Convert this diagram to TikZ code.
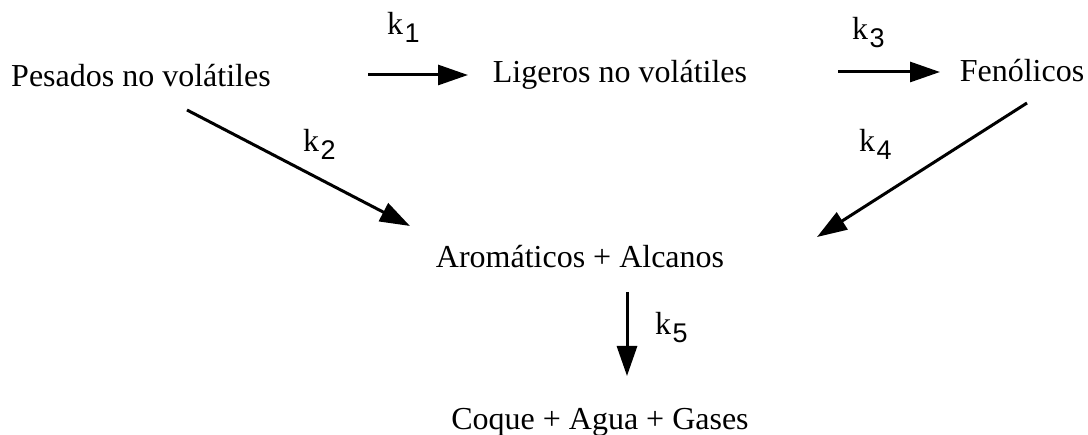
\documentclass[tikz,border=0pt]{standalone}
\usepackage{fontspec}
\setmainfont{Liberation Serif}
\setsansfont{Liberation Sans}
\usetikzlibrary{arrows.meta}
\newcommand{\rate}[1]{k\kern1.5pt\raisebox{-8pt}{\sffamily\fontsize{27}{27}\selectfont #1}}

\begin{document}
\begin{tikzpicture}
	[x=1pt,y=-1pt,
	species/.style={anchor=base,inner sep=0pt,font=\fontsize{32}{38}\selectfont},
	ratelbl/.style={anchor=base west,inner sep=0pt,font=\fontsize{32}{38}\selectfont},
	reac/.style={line width=3pt,-{Triangle[length=30pt,width=20pt]}}]
	\useasboundingbox (0,0) rectangle (1088,435);
	% species
	\node[species] (pesados) at (141,87) {Pesados no volátiles};
	\node[species] (ligeros) at (620,83) {Ligeros no volátiles};
	\node[species] (fenolicos) at (1022,82) {Fenólicos};
	\node[species] (aromaticos) at (580,268) {Aromáticos + Alcanos};
	\node[species] (coque) at (600,430) {Coque + Agua + Gases};
	% arrow ends
	\coordinate (a1) at (368,75);   \coordinate (b1) at (468,75);
	\coordinate (a2) at (187,110);  \coordinate (b2) at (410,226);
	\coordinate (a3) at (838,72);   \coordinate (b3) at (940,72);
	\coordinate (a4) at (1027,103); \coordinate (b4) at (817,237);
	\coordinate (a5) at (627,292);  \coordinate (b5) at (627,376);
	\foreach \i in {1,...,5}
		\draw[reac] (a\i) -- (b\i);
	% rate constants
	\node[ratelbl] (k1) at (387,35) {\rate{1}};
	\node[ratelbl] (k2) at (303,152) {\rate{2}};
	\node[ratelbl] (k3) at (852,40) {\rate{3}};
	\node[ratelbl] (k4) at (859,152) {\rate{4}};
	\node[ratelbl] (k5) at (655,335) {\rate{5}};
\end{tikzpicture}
\end{document}
